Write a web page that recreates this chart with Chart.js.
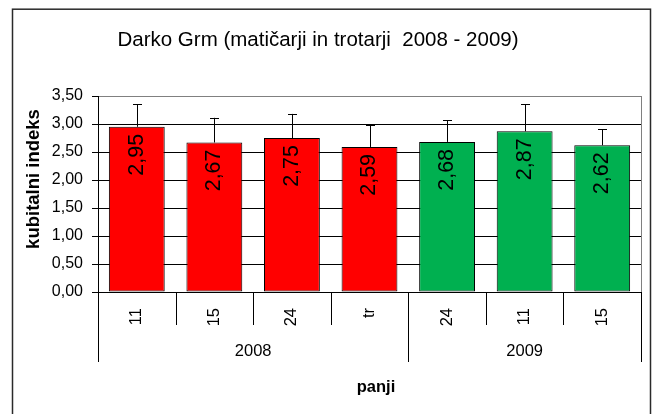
<!DOCTYPE html>
<html>
<head>
<meta charset="utf-8">
<script src="https://cdn.jsdelivr.net/npm/chart.js@4"></script>
<style>
  body { margin: 0; background: #fff; }
  #graf { display: block; }
</style>
</head>
<body>
<canvas id="graf" width="655" height="414"></canvas>
<script>
// podatki
const panji = ['11', '15', '24', 'tr', '24', '11', '15'];
const leta = ['2008', '2008', '2008', '2008', '2009', '2009', '2009'];
const indeks = [2.95, 2.67, 2.75, 2.59, 2.68, 2.87, 2.62];
const napaka = [0.40, 0.44, 0.43, 0.39, 0.39, 0.48, 0.29];
const barve = ['#FF0000', '#FF0000', '#FF0000', '#FF0000', '#00B050', '#00B050', '#00B050'];
const yTicks = [0, 0.5, 1, 1.5, 2, 2.5, 3, 3.5];

const naslov = 'Darko Grm (matičarji in trotarji  2008 - 2009)';
const yNaslov = 'kubitalni indeks';
const xNaslov = 'panji';
const pisava = "'Liberation Sans', Arial, sans-serif";

const fmt = v => v.toFixed(2).replace('.', ',');

// okvir, naslovi, napake, oznake, skupine
const risanje = {
  id: 'risanje',
  beforeDraw(chart) {
    const c = chart.ctx;
    c.save();
    c.fillStyle = '#fff';
    c.fillRect(0, 0, chart.width, chart.height);
    c.strokeStyle = '#2a2a2a';
    c.lineWidth = 1.5;
    c.strokeRect(12.5, 9.2, 638, 430);
    c.fillStyle = '#000';
    c.font = '20.5px ' + pisava;
    c.textAlign = 'center';
    c.textBaseline = 'middle';
    c.fillText(naslov, 318, 40);
    c.font = 'bold 18.5px ' + pisava;
    c.translate(34, 179);
    c.rotate(-Math.PI / 2);
    c.fillText(yNaslov, 0, 0);
    c.restore();
  },
  afterDatasetsDraw(chart) {
    const c = chart.ctx;
    const y = chart.scales.y;
    const x = chart.scales.x;
    const area = chart.chartArea;
    const bars = chart.getDatasetMeta(0).data;
    c.save();
    // desni rob
    c.strokeStyle = '#808080';
    c.lineWidth = 1;
    c.beginPath();
    c.moveTo(Math.round(area.right) + 0.5, area.top);
    c.lineTo(Math.round(area.right) + 0.5, area.bottom);
    c.stroke();
    // napake
    c.strokeStyle = '#000';
    bars.forEach((b, i) => {
      const top = y.getPixelForValue(indeks[i] + napaka[i]);
      const bx = Math.round(b.x) + 0.5;
      c.beginPath();
      c.moveTo(bx, b.y);
      c.lineTo(bx, top);
      c.moveTo(bx - 4.5, Math.round(top) + 0.5);
      c.lineTo(bx + 4.5, Math.round(top) + 0.5);
      c.stroke();
    });
    // vrednosti
    c.fillStyle = '#000';
    c.font = '21.5px ' + pisava;
    c.textAlign = 'right';
    c.textBaseline = 'middle';
    bars.forEach((b, i) => {
      c.save();
      c.translate(b.x, b.y + 7);
      c.rotate(-Math.PI / 2);
      c.fillText(fmt(indeks[i]), 0, 0);
      c.restore();
    });
    // ločnice in skupine
    const half = (x.getPixelForValue(1) - x.getPixelForValue(0)) / 2;
    c.strokeStyle = '#000';
    c.lineWidth = 1;
    for (let i = 0; i <= panji.length; i++) {
      const px = i < panji.length ? x.getPixelForValue(i) - half : x.getPixelForValue(i - 1) + half;
      const rob = i === 0 || i === panji.length || leta[i] !== leta[i - 1];
      c.beginPath();
      c.moveTo(Math.round(px) + 0.5, area.bottom);
      c.lineTo(Math.round(px) + 0.5, area.bottom + (rob ? 70 : 33));
      c.stroke();
    }
    c.font = '16.5px ' + pisava;
    c.textAlign = 'center';
    const skupine = [...new Set(leta)];
    skupine.forEach(l => {
      const idx = leta.map((v, i) => v === l ? i : -1).filter(i => i >= 0);
      const sx = (x.getPixelForValue(idx[0]) + x.getPixelForValue(idx[idx.length - 1])) / 2;
      c.fillText(l, sx, area.bottom + 59);
    });
    c.font = 'bold 16.5px ' + pisava;
    c.fillText(xNaslov, 376, area.bottom + 95);
    c.restore();
  }
};

new Chart(document.getElementById('graf'), {
  type: 'bar',
  data: {
    labels: panji,
    datasets: [{
      data: indeks,
      backgroundColor: barve,
      borderColor: '#000',
      borderWidth: 1,
      borderSkipped: false,
      barPercentage: 0.72,
      categoryPercentage: 1
    }]
  },
  options: {
    responsive: false,
    animation: false,
    devicePixelRatio: 1,
    layout: { padding: { left: 13, right: 14, top: 96, bottom: 0 } },
    plugins: {
      legend: { display: false },
      title: { display: false },
      tooltip: { enabled: false }
    },
    scales: {
      x: {
        afterFit: s => { s.height = 122; },
        grid: { display: false, drawTicks: false },
        border: { display: true, color: '#000', width: 1 },
        ticks: {
          color: '#000',
          font: { family: pisava, size: 16.5 },
          minRotation: 90,
          maxRotation: 90,
          padding: 16
        }
      },
      y: {
        min: 0,
        max: 3.5,
        afterFit: s => { s.width = 85; },
        afterBuildTicks: s => { s.ticks = yTicks.map(v => ({ value: v })); },
        grid: {
          color: ctx => ctx.tick && ctx.tick.value === 3.5 ? '#808080' : '#000',
          tickLength: 6,
          tickColor: '#000'
        },
        border: { display: true, color: '#000', width: 1 },
        ticks: {
          color: '#000',
          font: { family: pisava, size: 16 },
          padding: 9,
          callback: v => fmt(v)
        }
      }
    }
  },
  plugins: [risanje]
});
</script>
</body>
</html>
